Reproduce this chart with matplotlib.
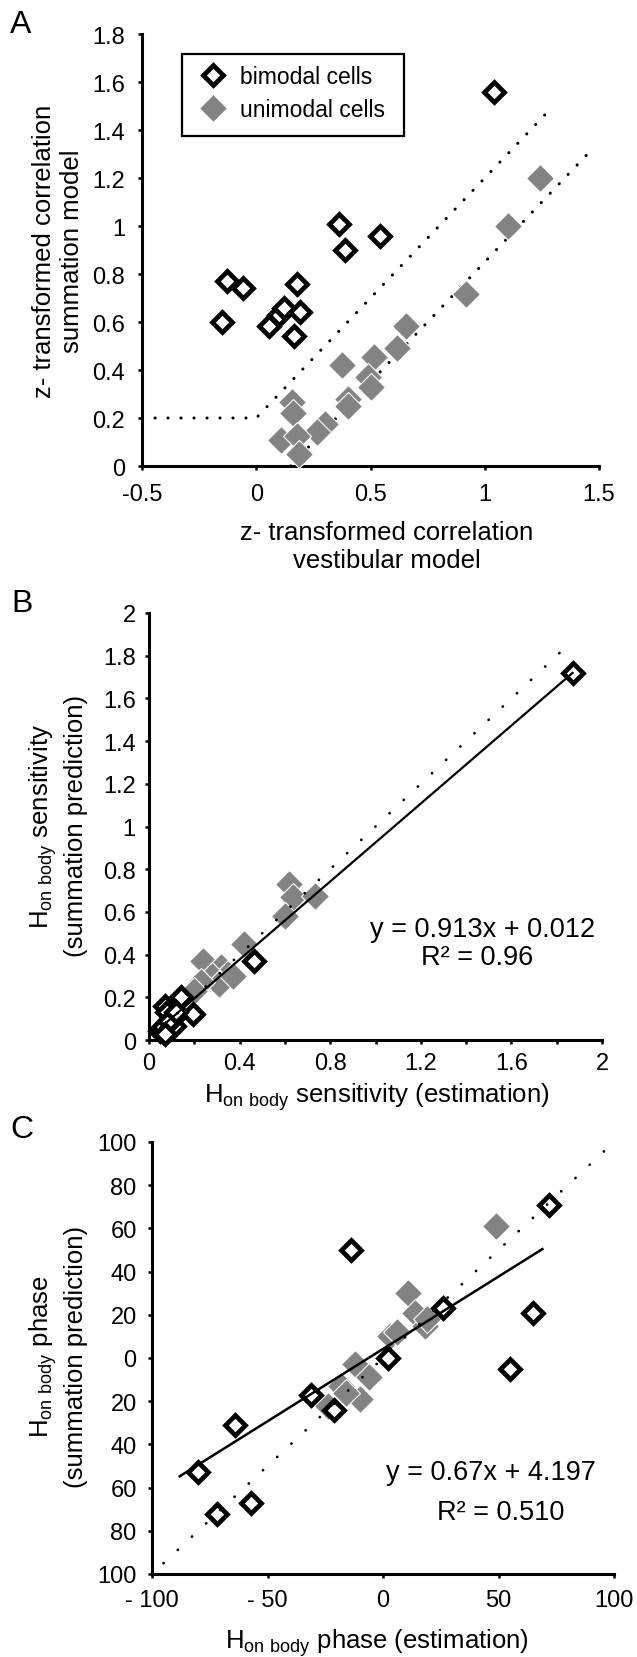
import matplotlib
matplotlib.use('Agg')
import matplotlib.pyplot as plt
from matplotlib.patches import Rectangle
from matplotlib.ticker import FixedLocator, FuncFormatter

plt.rcParams['font.family'] = ['Liberation Sans', 'DejaVu Sans']
plt.rcParams['mathtext.default'] = 'regular'
plt.rcParams['axes.unicode_minus'] = False

# ---------------- data ----------------
# Panel A
a_bi_x = [1.04, 0.36, 0.39, 0.54, -0.13, -0.06, 0.18, -0.15, 0.055, 0.10, 0.12, 0.19, 0.165]
a_bi_y = [1.56, 1.01, 0.90, 0.96, 0.77, 0.74, 0.76, 0.60, 0.585, 0.63, 0.66, 0.64, 0.54]
a_uni_x = [1.24, 1.10, 0.92, 0.655, 0.615, 0.515, 0.49, 0.50, 0.375, 0.40, 0.40, 0.155, 0.16,
           0.30, 0.265, 0.11, 0.18, 0.185]
a_uni_y = [1.20, 1.00, 0.715, 0.585, 0.49, 0.455, 0.37, 0.33, 0.42, 0.28, 0.25, 0.265, 0.22,
           0.175, 0.14, 0.11, 0.125, 0.05]
a_upper_x = [-0.5, 0.0, 1.28]
a_upper_y = [0.2, 0.2, 1.48]
a_lower_x = [0.15, 1.47]
a_lower_y = [0.0, 1.32]
a_xticks = [-0.5, 0, 0.5, 1, 1.5]
a_yticks = [0, 0.2, 0.4, 0.6, 0.8, 1.0, 1.2, 1.4, 1.6, 1.8]
legend_labels = ['bimodal cells', 'unimodal cells']

# Panel B
b_bi_x = [1.87, 0.465, 0.14, 0.07, 0.195, 0.11, 0.05, 0.08, 0.10, 0.06, 0.09, 0.12, 0.07]
b_bi_y = [1.72, 0.37, 0.20, 0.16, 0.12, 0.065, 0.04, 0.13, 0.10, 0.06, 0.09, 0.13, 0.03]
b_uni_x = [0.62, 0.635, 0.735, 0.60, 0.42, 0.24, 0.32, 0.35, 0.28, 0.31, 0.23, 0.20, 0.37]
b_uni_y = [0.73, 0.67, 0.675, 0.58, 0.45, 0.37, 0.34, 0.31, 0.30, 0.26, 0.27, 0.23, 0.30]
b_fit_slope, b_fit_int = 0.913, 0.012
b_r2 = '0.96'
b_fit_x = [0.05, 1.87]
b_ident_x = [0.0, 1.83]
b_xticks = [0, 0.2, 0.4, 0.6, 0.8, 1.0, 1.2, 1.4, 1.6, 1.8, 2.0]
b_yticks = [0, 0.2, 0.4, 0.6, 0.8, 1.0, 1.2, 1.4, 1.6, 1.8, 2.0]

# Panel C
c_bi_x = [72, -14, 26, 65, 55, 2, -31, -21, -64, -80, -57, -72]
c_bi_y = [71, 50, 23, 21, -5, 0, -17, -24, -31, -53, -67, -72]
c_uni_x = [49, 11, 14, 18, 19, 3, 6, -12, -6, -18, -10, -24, -16]
c_uni_y = [61, 30, 21, 15, 18, 10, 12, -3, -9, -13, -19, -22, -16]
c_fit_slope, c_fit_int = 0.67, 4.197
c_r2 = '0.510'
c_fit_x = [-88, 69]
c_ident_x = [-95, 100]
c_xticks = [-100, -50, 0, 50, 100]
c_yticks = [-100, -80, -60, -40, -20, 0, 20, 40, 60, 80, 100]

# ---------------- figure ----------------
W, H = 637, 1658
fig = plt.figure(figsize=(W / 100, H / 100), dpi=100)

GRAY = '#838383'
TICK_FS = 17
LABEL_FS = 18.5


def ax_px(l, r, t, b):
    return fig.add_axes([l / W, 1 - b / H, (r - l) / W, (b - t) / H])


def style(ax, xpad, ypad):
    for s in ['top', 'right']:
        ax.spines[s].set_visible(False)
    for s in ['left', 'bottom']:
        ax.spines[s].set_linewidth(2.2)
        ax.spines[s].set_color('black')
    ax.tick_params(axis='both', direction='out', length=3, width=1.8,
                   labelsize=TICK_FS, colors='black')
    ax.tick_params(axis='x', pad=xpad)
    ax.tick_params(axis='y', pad=ypad)
    ax.patch.set_alpha(0)


def draw_points(ax, ux, uy, bx, by):
    u, = ax.plot(ux, uy, linestyle='none', marker='D', markersize=13.8,
                 markerfacecolor=GRAY, markeredgecolor='white', markeredgewidth=0.8,
                 zorder=3, clip_on=False)
    b, = ax.plot(bx, by, linestyle='none', marker='D', markersize=9.8,
                 markerfacecolor='white', markeredgecolor='black', markeredgewidth=3.4,
                 zorder=3.5, clip_on=False)
    return b, u


# ---- Panel A ----
axA = ax_px(142, 599, 35, 467)
style(axA, 9, 9)
axA.set_xlim(-0.5, 1.5)
axA.set_ylim(0, 1.8)
axA.xaxis.set_major_locator(FixedLocator(a_xticks))
axA.yaxis.set_major_locator(FixedLocator(a_yticks))
axA.xaxis.set_major_formatter(FuncFormatter(lambda v, p: f"{v:g}"))
axA.yaxis.set_major_formatter(FuncFormatter(lambda v, p: f"{v:g}"))
hb, hu = draw_points(axA, a_uni_x, a_uni_y, a_bi_x, a_bi_y)
axA.plot(a_upper_x, a_upper_y, color='black', lw=2.2, dashes=(0.05, 4.2),
         dash_capstyle='round', zorder=2)
axA.plot(a_lower_x, a_lower_y, color='black', lw=2.2, dashes=(0.05, 4.2),
         dash_capstyle='round', zorder=2)
leg = axA.legend([hb, hu], legend_labels,
                 loc='upper left', bbox_to_anchor=(199 / W, 1 - 66 / H),
                 bbox_transform=fig.transFigure, fontsize=16.5, frameon=False,
                 borderpad=0, labelspacing=0.45,
                 handlelength=1.2, handletextpad=0.6, borderaxespad=0)
fig.add_artist(Rectangle((182 / W, 1 - 137 / H), 222 / W, 82 / H,
                         transform=fig.transFigure, fill=False,
                         edgecolor='black', linewidth=1.6, zorder=5))

fig.text(387 / W, 1 - 547 / H, 'z- transformed correlation\nvestibular model',
         ha='center', va='center', fontsize=LABEL_FS, linespacing=1.2)
fig.text(58 / W, 1 - 251 / H, 'z- transformed correlation\nsummation model',
         ha='center', va='center', rotation=90, fontsize=LABEL_FS, linespacing=1.2)
fig.text(21 / W, 1 - 25 / H, 'A', ha='center', va='center', fontsize=23)

# ---- Panel B ----
axB = ax_px(149, 602, 614, 1041)
style(axB, 6, 6.5)
axB.set_xlim(0, 2)
axB.set_ylim(0, 2)
axB.xaxis.set_major_locator(FixedLocator(b_xticks))
axB.yaxis.set_major_locator(FixedLocator(b_yticks))


def b_xfmt(v, p):
    k = v / 0.4
    return f"{v:g}" if abs(k - round(k)) < 1e-6 else ""


axB.xaxis.set_major_formatter(FuncFormatter(b_xfmt))
axB.yaxis.set_major_formatter(FuncFormatter(lambda v, p: f"{v:g}"))
draw_points(axB, b_uni_x, b_uni_y, b_bi_x, b_bi_y)
axB.plot(b_fit_x, [b_fit_slope * x + b_fit_int for x in b_fit_x], color='black',
         lw=1.6, zorder=4)
axB.plot(b_ident_x, b_ident_x, color='black', lw=2, dashes=(0.05, 6.95),
         dash_capstyle='round', zorder=4)
fig.text(483 / W, 1 - 930 / H, f'y = {b_fit_slope}x + {b_fit_int}', ha='center',
         va='center', fontsize=19.5)
fig.text(477 / W, 1 - 958 / H, f'R² = {b_r2}', ha='center', va='center', fontsize=19.5)
fig.text(377 / W, 1 - 1097 / H, r'H$_{on\ body}$ sensitivity (estimation)',
         ha='center', va='center', fontsize=LABEL_FS)
fig.text(58 / W, 1 - 826 / H, 'H$_{on\\ body}$ sensitivity\n(summation prediction)',
         ha='center', va='center', rotation=90, fontsize=LABEL_FS, linespacing=1.25)
fig.text(22 / W, 1 - 604 / H, 'B', ha='center', va='center', fontsize=23)

# ---- Panel C ----
axC = ax_px(152, 614, 1143, 1575)
style(axC, 8, 8)
axC.set_xlim(-100, 100)
axC.set_ylim(-100, 100)
axC.xaxis.set_major_locator(FixedLocator(c_xticks))
axC.yaxis.set_major_locator(FixedLocator(c_yticks))
axC.xaxis.set_major_formatter(FuncFormatter(
    lambda v, p: f"- {abs(int(round(v)))}" if v < 0 else f"{int(round(v))}"))
axC.yaxis.set_major_formatter(FuncFormatter(lambda v, p: f"{abs(int(round(v)))}"))
draw_points(axC, c_uni_x, c_uni_y, c_bi_x, c_bi_y)
axC.plot(c_fit_x, [c_fit_slope * x + c_fit_int for x in c_fit_x], color='black',
         lw=1.8, zorder=4)
axC.plot(c_ident_x, c_ident_x, color='black', lw=2, dashes=(0.05, 6.95),
         dash_capstyle='round', zorder=4, clip_on=False)
fig.text(491 / W, 1 - 1473 / H, f'y = {c_fit_slope}x + {c_fit_int}', ha='center',
         va='center', fontsize=19.5)
fig.text(501 / W, 1 - 1513 / H, f'R² = {c_r2}', ha='center', va='center', fontsize=19.5)
fig.text(377 / W, 1 - 1643 / H, r'H$_{on\ body}$ phase (estimation)',
         ha='center', va='center', fontsize=LABEL_FS)
fig.text(58 / W, 1 - 1357 / H, 'H$_{on\\ body}$ phase\n(summation prediction)',
         ha='center', va='center', rotation=90, fontsize=LABEL_FS, linespacing=1.25)
fig.text(22 / W, 1 - 1130 / H, 'C', ha='center', va='center', fontsize=23)

fig.savefig('out.png', dpi=100)
